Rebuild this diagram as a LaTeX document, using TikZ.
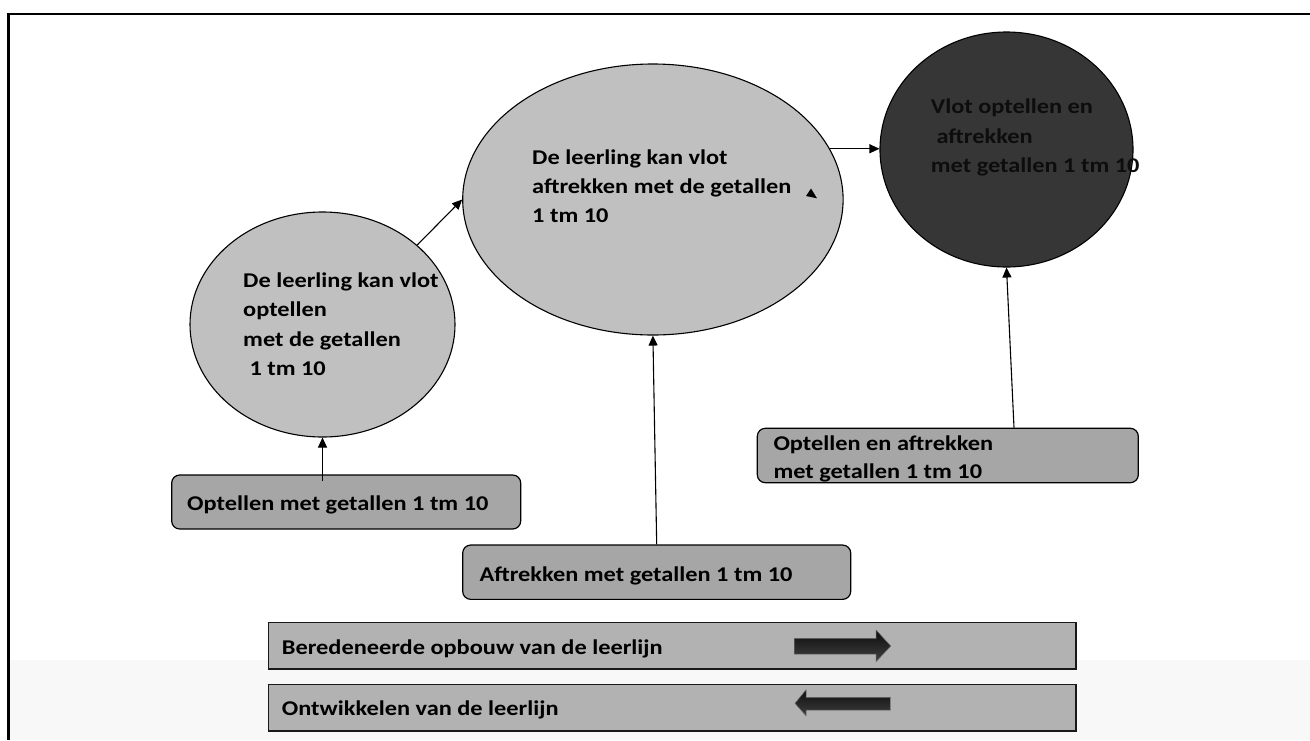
\documentclass[tikz,border=0pt]{standalone}
\usepackage{fontspec}
\setmainfont{Carlito}
\newfontfamily\lblfont[FakeStretch=1.16]{Carlito}
\usetikzlibrary{shapes.geometric,arrows.meta}
\definecolor{ellfill}{HTML}{C0C0C0}
\definecolor{darkfill}{HTML}{363636}
\definecolor{boxfill}{HTML}{A6A6A6}
\definecolor{stripfill}{HTML}{B2B2B2}
\definecolor{bandfill}{HTML}{F8F8F8}
\tikzset{
  ell/.style={ellipse, draw=black, line width=1.1pt, inner sep=0pt},
  gbox/.style={rectangle, rounded corners=8pt, draw=black, line width=1.2pt, fill=boxfill, inner sep=0pt},
  strip/.style={rectangle, draw=black!90, line width=1.6pt, fill=stripfill, inner sep=0pt},
  txt/.style={anchor=base west, inner sep=0pt, align=left, font=\lblfont\bfseries\fontsize{21}{29.2}\selectfont},
  arr/.style={line width=1.1pt, -{Triangle[length=10pt,width=9pt]}},
  blockarrow/.style={draw=black!60, line width=0.5pt, top color=black!95, bottom color=black!75}
}
\begin{document}
\begin{tikzpicture}[x=1pt,y=-1pt]
\useasboundingbox (0,0) rectangle (1310,740);
% background band and frame
\fill[bandfill] (10,660) rectangle (1310,740);
\draw[line width=2.5pt] (8.3,740) -- (8.3,13.8) -- (1310,13.8);

% ellipses
\node[ell, fill=ellfill, minimum width=265pt, minimum height=225pt] (e1) at (322.5,324.5) {};
\node[ell, fill=ellfill, minimum width=380.4pt, minimum height=271pt] (e2) at (652.9,199.5) {};
\node[ell, fill=darkfill, minimum width=253pt, minimum height=235pt] (e3) at (1006.5,149.5) {};

% boxes
\node[gbox, minimum width=349pt, minimum height=54pt] (b1) at (346.2,502) {};
\node[gbox, minimum width=388pt, minimum height=54.3pt] (b2) at (656.7,572.2) {};
\node[gbox, minimum width=381pt, minimum height=54.4pt] (b3) at (947.8,455.5) {};

% strips
\node[strip, minimum width=807.5pt, minimum height=46.7pt] (s1) at (672.2,645.8) {};
\node[strip, minimum width=807.5pt, minimum height=46.7pt] (s2) at (672.2,707.7) {};

% texts (anchor = baseline of the last line)
\node[txt] (t1) at (243,375.2) {De leerling kan vlot\\optellen\\met de getallen\\\hspace*{0.3em}1 tm 10};
\node[txt] (t2) at (532,222.7) {De leerling kan vlot\\aftrekken met de getallen\\1 tm 10};
\node[txt, text=black!95, font=\lblfont\bfseries\fontsize{21}{29.7}\selectfont] (t3) at (930.7,172.7) {Vlot optellen en\\\hspace*{0.27em}aftrekken\\met getallen 1 tm 10};
\node[txt] (t4) at (187,510) {Optellen met getallen 1 tm 10};
\node[txt] (t5) at (479.3,581.7) {Aftrekken met getallen 1 tm 10};
\node[txt, font=\lblfont\bfseries\fontsize{21}{28.3}\selectfont] (t6) at (773.3,478.3) {Optellen en aftrekken\\met getallen 1 tm 10};
\node[txt] (t7) at (281.7,654.7) {Beredeneerde opbouw van de leerlijn};
\node[txt] (t8) at (281.7,715.5) {Ontwikkelen van de leerlijn};

% stray small triangle in middle ellipse
\fill[black] (811,188.5) -- (806,196) -- (817,198.3) -- cycle;

% connectors
\draw[arr] ([yshift=-7pt]e1.south |- b1.north) -- (e1.south);
\draw[arr] (b2.north) -- (e2.south);
\draw[arr] ([xshift=66.2pt]b3.north) -- (e3.south);
\draw[arr] (e1.40.8) -- (e2.west);
\draw[arr] (e2.16) -- (e2.16 -| e3.west);

% block arrows
\path[blockarrow] (794.3,638.3) -- (876,638.3) -- (876,630) -- (890.7,646) -- (876,661.7) -- (876,654) -- (794.3,654) -- cycle;
\path[blockarrow] (890.7,697.3) -- (806,697.3) -- (806,690) -- (795,703.3) -- (806,715.7) -- (806,710) -- (890.7,710) -- cycle;
\end{tikzpicture}
\end{document}
